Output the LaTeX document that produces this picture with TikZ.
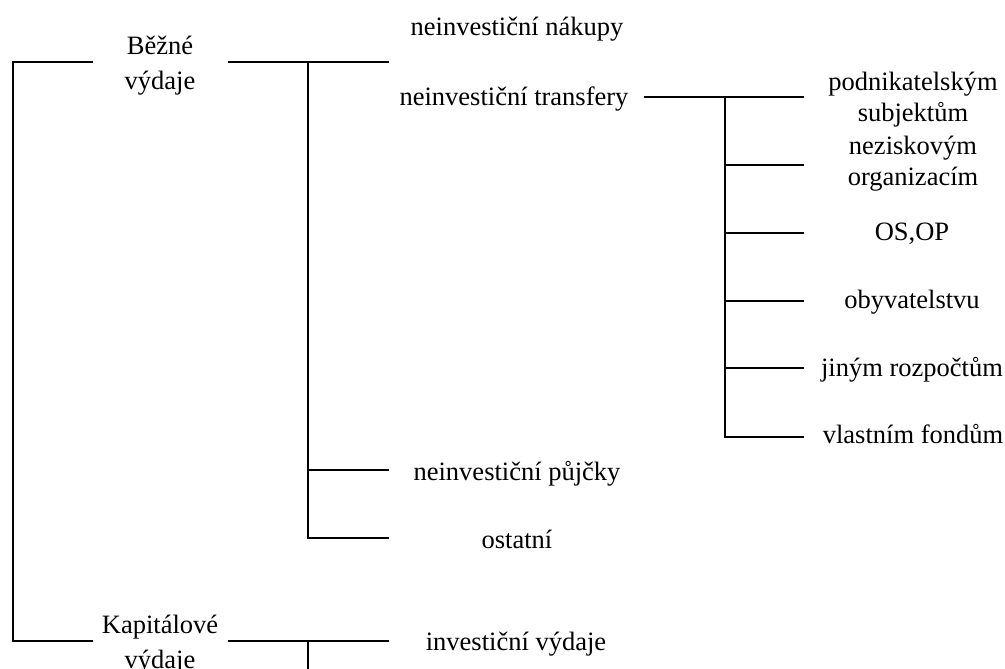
\documentclass[tikz,border=0pt]{standalone}
\usepackage{fontspec}
\setmainfont{Liberation Serif}

\begin{document}
\begin{tikzpicture}[x = 1pt, y = -1pt, line width = 2pt,
                    every node/.style = {align = center, inner sep = 0pt,
                                         font = \fontsize{26.5}{31}\selectfont},
                    wide/.style = {font = \fontsize{26.5}{35}\selectfont}]
      \useasboundingbox (0, 0) rectangle (1005, 669);

      \node [wide] (bez) at (160, 66) {Běžné\\výdaje};
      \node [wide] (kap) at (160, 645) {Kapitálové\\výdaje};
      \coordinate (r0) at (12.5, 62);
      \coordinate (r1) at (12.5, 641);
      \coordinate (bez-w) at (93, 62);
      \coordinate (kap-w) at (93, 641);
      \draw (bez-w) -- (r0) -- (r1) -- (kap-w);

      \node [anchor = base] (nak) at (517, 36) {neinvestiční nákupy};
      \node [anchor = base] (tra) at (514, 106) {neinvestiční transfery};
      \node [anchor = base] (puj) at (517, 480) {neinvestiční půjčky};
      \node [anchor = base] (ost) at (517, 548) {ostatní};
      \coordinate (bez-e) at (228, 62);
      \coordinate (b0) at (308, 62);
      \coordinate (b1) at (389, 62);
      \coordinate (b2) at (308, 470);
      \coordinate (b3) at (389, 470);
      \coordinate (b4) at (308, 538);
      \coordinate (b5) at (389, 538);
      \draw (bez-e) -- (b1)
            (b0) -- (b4) -- (b5)
            (b2) -- (b3);

      \node (t1) at (913, 100) {podnikatelským\\subjektům};
      \node (t2) at (913, 164) {neziskovým\\organizacím};
      \node [anchor = base] (t3) at (912, 240) {OS,OP};
      \node [anchor = base] (t4) at (912, 308) {obyvatelstvu};
      \node [anchor = base] (t5) at (912, 376) {jiným rozpočtům};
      \node [anchor = base] (t6) at (913, 443) {vlastním fondům};
      \coordinate (tra-e) at (644, 97);
      \coordinate (c0) at (725, 97);
      \coordinate (c1) at (804, 97);
      \coordinate (c2) at (725, 165);
      \coordinate (c3) at (804, 165);
      \coordinate (c4) at (725, 233);
      \coordinate (c5) at (804, 233);
      \coordinate (c6) at (725, 301);
      \coordinate (c7) at (804, 301);
      \coordinate (c8) at (725, 368);
      \coordinate (c9) at (804, 368);
      \coordinate (c10) at (725, 437);
      \coordinate (c11) at (804, 437);
      \draw (tra-e) -- (c1)
            (c0) -- (c10) -- (c11)
            (c2) -- (c3)
            (c4) -- (c5)
            (c6) -- (c7)
            (c8) -- (c9);

      \node [anchor = base] (inv) at (516, 650) {investiční výdaje};
      \coordinate (kap-e) at (228, 641);
      \coordinate (d0) at (308, 641);
      \coordinate (d1) at (389, 641);
      \coordinate (d2) at (308, 669);
      \draw (kap-e) -- (d1)
            (d0) -- (d2);
    \end{tikzpicture}
\end{document}
